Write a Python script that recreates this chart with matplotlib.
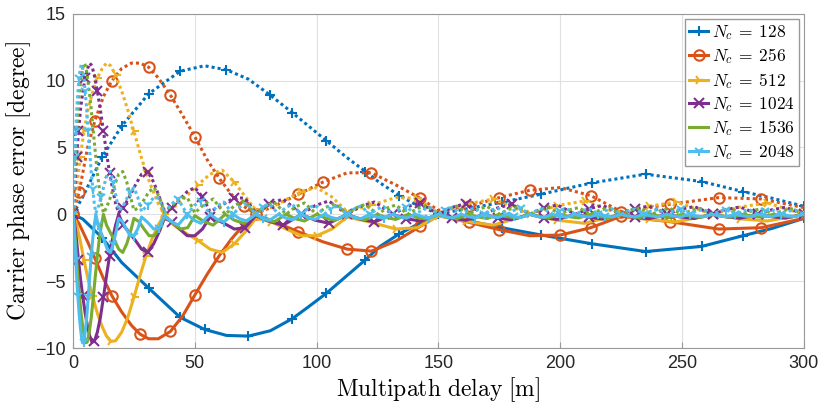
import matplotlib.pyplot as plt
import numpy as np

# Schriften: Achsenbeschriftung im LaTeX-Stil, Zahlen serifenlos
plt.rcParams['mathtext.fontset'] = 'cm'
plt.rcParams['font.family'] = ['Liberation Sans', 'DejaVu Sans']

# Werte (Verzögerung in m, Fehler in Grad)
# d_* = gepunktete Kurve (positiv), s_* = durchgezogene Kurve (negativ)
nc_values = [128, 256, 512, 1024, 1536, 2048]

x_128 = [0, 4, 12, 20, 31, 44, 54, 63, 72, 81, 90, 96, 104, 112, 120, 126, 134, 142, 150,
         160, 176, 192, 213, 235, 258, 275, 287, 300]
d_128 = [0, 1.3, 4.3, 6.6, 9.0, 10.7, 11.1, 10.8, 10.1, 8.9, 7.6, 6.7, 5.5, 4.3, 3.2, 2.35, 1.4, 0.6, 0.05,
         0.35, 0.9, 1.5, 2.35, 3.0, 2.45, 1.7, 1.2, 0.6]
s_128 = [0, -0.35, -1.75, -3.6, -5.5, -7.7, -8.6, -9.05, -9.1, -8.7, -7.8, -7.0, -5.9, -4.65, -3.4, -2.4, -1.45, -0.7, 0,
         -0.4, -1.0, -1.54, -2.2, -2.78, -2.4, -1.6, -1.05, -0.3]

x_256 = [0, 2.5, 6, 9, 12.5, 16, 20, 24, 27.5, 31, 35, 40, 45, 50, 55, 60, 65, 70, 75,
         82.5, 92.5, 102.5, 112.5, 122.5, 132.5, 142.5, 150, 162.5, 175, 187.5, 200, 212.5, 225,
         245, 265, 282.5, 300]
d_256 = [0, 1.65, 5.0, 7.0, 8.8, 10.0, 10.9, 11.3, 11.3, 11.0, 10.2, 8.9, 7.4, 5.8, 4.1, 2.7, 1.5, 0.6, 0.05,
         0.6, 1.5, 2.4, 3.1, 3.1, 2.2, 1.2, 0.3, 0.6, 1.25, 1.8, 2.0, 1.4, 0.2,
         0.75, 1.25, 1.15, 0.5]
s_256 = [0, -0.7, -2.05, -3.3, -4.8, -6.1, -7.3, -8.3, -8.95, -9.3, -9.3, -8.75, -7.6, -6.03, -4.5, -3.1, -1.85, -0.8, 0,
         -0.55, -1.3, -2.05, -2.6, -2.75, -2.0, -0.9, -0.1, -0.6, -1.15, -1.6, -1.55, -1.0, -0.15,
         -0.55, -1.1, -1.0, -0.3]

x_512 = [0, 1.25, 3, 4.5, 6.25, 8, 10, 12, 13.75, 15.5, 17.5, 20, 22.5, 25, 27.5, 30, 32.5, 35, 37.5,
         41.25, 46.25, 51.25, 56.25, 61.25, 66.25, 71.25, 75, 81.25, 87.5, 93.75, 100, 106.25, 112.5,
         122.5, 132.5, 141.25, 150, 161.25, 172.5, 187.5, 198.75, 210, 225, 236.25, 247.5, 262.5,
         273.75, 285, 300]
d_512 = [0, 1.6, 4.3, 6.2, 7.9, 9.1, 10.2, 10.9, 11.3, 11.1, 10.4, 9.2, 7.8, 6.2, 4.6, 3.1, 1.9, 0.8, 0.1,
         0.5, 1.3, 2.2, 3.0, 3.3, 2.4, 1.2, 0.3, 0.5, 1.1, 1.7, 2.0, 1.3, 0.2,
         0.7, 1.25, 1.2, 0.1, 0.75, 1.15, 0, 0.65, 1.0, 0, 0.6, 0.92, 0,
         0.55, 0.85, 0]
s_512 = [0, -0.6, -2.0, -3.4, -4.9, -6.1, -7.4, -8.4, -9.1, -9.5, -9.45, -8.8, -7.7, -6.2, -4.6, -3.1, -1.8, -0.8, 0,
         -0.8, -1.4, -1.95, -2.6, -2.85, -2.2, -1.2, -0.3, -0.55, -1.1, -1.6, -1.6, -1.1, -0.2,
         -0.6, -1.1, -1.0, -0.1, -0.53, -0.81, 0, -0.44, -0.67, 0, -0.37, -0.57, 0,
         -0.33, -0.5, 0]

x_1024 = [0, 0.63, 1.5, 2.25, 3.13, 4, 5, 6, 6.88, 7.75, 8.75, 10, 11.25, 12.5, 13.75, 15, 16.25, 17.5, 18.75,
          20.63, 23.13, 25.63, 28.13, 30.63, 33.13, 35.63, 37.5, 40.63, 43.75, 46.88, 50, 53.13, 56.25,
          61.25, 66.25, 70.63, 75, 80.63, 86.25, 93.75, 99.38, 105, 112.5, 118.13, 123.75, 131.25,
          136.88, 142.5, 150, 155.63, 161.25, 168.75, 174.38, 180, 187.5, 193.13, 198.75, 206.25,
          211.88, 217.5, 225, 230.63, 236.25, 243.75, 249.38, 255, 262.5, 268.13, 273.75, 281.25,
          286.88, 292.5, 300]
d_1024 = [0, 1.6, 4.3, 6.2, 7.9, 9.1, 10.2, 10.9, 11.3, 11.1, 10.4, 9.2, 7.8, 6.2, 4.6, 3.1, 1.9, 0.8, 0.1,
          0.5, 1.3, 2.2, 3.0, 3.2, 2.4, 1.2, 0.3, 0.5, 1.1, 1.7, 2.0, 1.3, 0.2,
          0.7, 1.25, 1.2, 0.1, 0.75, 1.15, 0, 0.65, 1.0, 0, 0.6, 0.92, 0,
          0.55, 0.85, 0, 0.52, 0.8, 0, 0.49, 0.75, 0, 0.46, 0.7, 0,
          0.43, 0.66, 0, 0.4, 0.62, 0, 0.38, 0.58, 0, 0.36, 0.55, 0,
          0.34, 0.53, 0]
s_1024 = [0, -0.6, -2.0, -3.4, -4.9, -6.1, -7.4, -8.4, -9.1, -9.55, -9.5, -8.8, -7.7, -6.2, -4.6, -3.1, -1.8, -0.8, 0,
          -0.8, -1.4, -1.95, -2.6, -2.85, -2.2, -1.2, -0.3, -0.55, -1.1, -1.6, -1.6, -1.1, -0.2,
          -0.6, -1.1, -1.0, -0.1, -0.53, -0.81, 0, -0.44, -0.67, 0, -0.37, -0.57, 0,
          -0.33, -0.5, 0, -0.29, -0.45, 0, -0.27, -0.41, 0, -0.25, -0.38, 0,
          -0.23, -0.35, 0, -0.21, -0.33, 0, -0.2, -0.31, 0, -0.19, -0.29, 0,
          -0.18, -0.28, 0]

x_1536 = [0, 0.42, 1, 1.5, 2.08, 2.67, 3.33, 4, 4.58, 5.17, 5.83, 6.67, 7.5, 8.33, 9.17, 10, 10.83, 11.67, 12.5,
          13.75, 15.42, 17.08, 18.75, 20.42, 22.08, 23.75, 25, 27.08, 29.17, 31.25, 33.33, 35.42, 37.5,
          40.83, 44.17, 47.08, 50, 53.75, 57.5, 62.5, 66.25, 70, 75, 78.75, 82.5, 87.5, 91.25, 95, 100,
          103.75, 107.5, 112.5, 116.25, 120, 125, 128.75, 132.5, 137.5, 141.25, 145, 150,
          153.75, 157.5, 162.5, 166.25, 170, 175, 178.75, 182.5, 187.5, 191.25, 195, 200,
          203.75, 207.5, 212.5, 216.25, 220, 225, 228.75, 232.5, 237.5, 241.25, 245, 250,
          253.75, 257.5, 262.5, 266.25, 270, 275, 278.75, 282.5, 287.5, 291.25, 295, 300]
d_1536 = [0, 1.6, 4.3, 6.2, 7.9, 9.1, 10.2, 10.9, 11.3, 11.1, 10.4, 9.2, 7.8, 6.2, 4.6, 3.1, 1.9, 0.8, 0.1,
          0.5, 1.3, 2.2, 3.0, 3.2, 2.4, 1.2, 0.3, 0.5, 1.1, 1.7, 2.0, 1.3, 0.2,
          0.7, 1.25, 1.2, 0.1, 0.75, 1.15, 0, 0.65, 1.0, 0, 0.6, 0.92, 0, 0.55, 0.85, 0,
          0.52, 0.8, 0, 0.49, 0.75, 0, 0.46, 0.7, 0, 0.43, 0.66, 0,
          0.4, 0.62, 0, 0.38, 0.58, 0, 0.36, 0.55, 0, 0.34, 0.53, 0,
          0.33, 0.5, 0, 0.31, 0.48, 0, 0.31, 0.47, 0, 0.29, 0.45, 0,
          0.29, 0.44, 0, 0.28, 0.43, 0, 0.27, 0.42, 0, 0.27, 0.41, 0]
s_1536 = [0, -0.6, -2.0, -3.4, -4.9, -6.1, -7.4, -8.4, -9.1, -9.6, -9.55, -8.8, -7.7, -6.2, -4.6, -3.1, -1.8, -0.8, 0,
          -0.8, -1.4, -1.95, -2.6, -2.85, -2.2, -1.2, -0.3, -0.55, -1.1, -1.6, -1.6, -1.1, -0.2,
          -0.6, -1.1, -1.0, -0.1, -0.53, -0.81, 0, -0.44, -0.67, 0, -0.37, -0.57, 0, -0.33, -0.5, 0,
          -0.29, -0.45, 0, -0.27, -0.41, 0, -0.25, -0.38, 0, -0.23, -0.35, 0,
          -0.21, -0.33, 0, -0.2, -0.31, 0, -0.19, -0.29, 0, -0.18, -0.28, 0,
          -0.18, -0.27, 0, -0.17, -0.26, 0, -0.16, -0.25, 0, -0.16, -0.24, 0,
          -0.15, -0.23, 0, -0.14, -0.22, 0, -0.14, -0.21, 0, -0.13, -0.2, 0]

x_2048 = [0, 0.31, 0.75, 1.13, 1.56, 2, 2.5, 3, 3.44, 3.88, 4.38, 5, 5.63, 6.25, 6.88, 7.5, 8.13, 8.75, 9.38,
          10.31, 11.56, 12.81, 14.06, 15.31, 16.56, 17.81, 18.75, 20.31, 21.88, 23.44, 25, 26.56, 28.13,
          30.63, 33.13, 35.31, 37.5, 40.31, 43.13, 46.88, 49.69, 52.5, 56.25, 59.06, 61.88, 65.63,
          68.44, 71.25, 75, 77.81, 80.63, 84.38, 87.19, 90, 93.75, 96.56, 99.38, 103.13,
          105.94, 108.75, 112.5, 115.31, 118.13, 121.88, 124.69, 127.5, 131.25, 134.06, 136.88, 140.63,
          143.44, 146.25, 150, 152.81, 155.63, 159.38, 162.19, 165, 168.75, 171.56, 174.38, 178.13,
          180.94, 183.75, 187.5, 190.31, 193.13, 196.88, 199.69, 202.5, 206.25, 209.06, 211.88, 215.63,
          218.44, 221.25, 225, 227.81, 230.63, 234.38, 237.19, 240, 243.75, 246.56, 249.38, 253.13,
          255.94, 258.75, 262.5, 265.31, 268.13, 271.88, 274.69, 277.5, 281.25, 284.06, 286.88, 290.63,
          293.44, 296.25, 300]
d_2048 = [0, 1.6, 4.3, 6.2, 7.9, 9.1, 10.2, 10.9, 11.2, 11.0, 10.4, 9.2, 7.8, 6.2, 4.6, 3.1, 1.9, 0.8, 0.1,
          0.5, 1.3, 2.2, 3.0, 3.2, 2.4, 1.2, 0.3, 0.5, 1.1, 1.7, 2.0, 1.3, 0.2,
          0.7, 1.25, 1.2, 0.1, 0.75, 1.15, 0, 0.65, 1.0, 0, 0.6, 0.92, 0,
          0.55, 0.85, 0, 0.52, 0.8, 0, 0.49, 0.75, 0, 0.46, 0.7, 0,
          0.43, 0.66, 0, 0.4, 0.62, 0, 0.38, 0.58, 0, 0.36, 0.55, 0,
          0.34, 0.53, 0, 0.33, 0.5, 0, 0.31, 0.48, 0, 0.31, 0.47, 0,
          0.29, 0.45, 0, 0.29, 0.44, 0, 0.28, 0.43, 0, 0.27, 0.42, 0,
          0.27, 0.41, 0, 0.26, 0.4, 0, 0.25, 0.39, 0, 0.25, 0.38, 0,
          0.24, 0.37, 0, 0.23, 0.36, 0, 0.23, 0.35, 0, 0.23, 0.35, 0,
          0.22, 0.34, 0]
s_2048 = [0, -0.6, -2.0, -3.4, -4.9, -6.1, -7.4, -8.4, -9.1, -9.6, -9.55, -8.8, -7.7, -6.2, -4.6, -3.1, -1.8, -0.8, 0,
          -0.8, -1.4, -1.95, -2.6, -2.85, -2.2, -1.2, -0.3, -0.55, -1.1, -1.6, -1.6, -1.1, -0.2,
          -0.6, -1.1, -1.0, -0.1, -0.53, -0.81, 0, -0.44, -0.67, 0, -0.37, -0.57, 0,
          -0.33, -0.5, 0, -0.29, -0.45, 0, -0.27, -0.41, 0, -0.25, -0.38, 0,
          -0.23, -0.35, 0, -0.21, -0.33, 0, -0.2, -0.31, 0, -0.19, -0.29, 0,
          -0.18, -0.28, 0, -0.18, -0.27, 0, -0.17, -0.26, 0, -0.16, -0.25, 0,
          -0.16, -0.24, 0, -0.15, -0.23, 0, -0.14, -0.22, 0, -0.14, -0.21, 0,
          -0.13, -0.2, 0, -0.13, -0.2, 0, -0.12, -0.19, 0, -0.12, -0.19, 0,
          -0.12, -0.18, 0, -0.12, -0.18, 0, -0.11, -0.17, 0, -0.11, -0.17, 0,
          -0.1, -0.16, 0]

x_ticks = [0, 50, 100, 150, 200, 250, 300]
y_ticks = [-10, -5, 0, 5, 10, 15]

# MATLAB-Standardfarben
colors = ['#0072BD', '#D95319', '#EDB120', '#7E2F8E', '#77AC30', '#4DBEEE']
markers = ['+', 'o', '4', 'x', None, '1']

curves = [(x_128, d_128, s_128), (x_256, d_256, s_256), (x_512, d_512, s_512),
          (x_1024, d_1024, s_1024), (x_1536, d_1536, s_1536), (x_2048, d_2048, s_2048)]

fig, ax = plt.subplots(figsize=(8.22, 4.12), dpi=100)
fig.subplots_adjust(left=0.0888, right=0.978, bottom=0.155, top=0.967)

for nc, (x, d, s), c, m in zip(nc_values, curves, colors, markers):
    style = dict(color=c, lw=2.2, marker=m, ms=7.5, mew=1.5, mfc='none', markevery=0.056)
    ax.plot(x, s, ls='-', label=r'$N_c \:=\: %d$' % nc, **style)
    ax.plot(x, d, ls=(0, (1, 1.0)), **style)

ax.set_xlim(0, 300)
ax.set_ylim(-10, 15)
ax.set_xticks(x_ticks)
ax.set_yticks(y_ticks)

ax.set_xlabel(r'$\mathrm{Multipath\ delay\ [m]}$', fontsize=17, labelpad=2)
ax.set_ylabel(r'$\mathrm{Carrier\ phase\ error\ [degree]}$', fontsize=17, labelpad=2)

# Gitter und Achsen im MATLAB-Stil
ax.grid(True, color='0.88', lw=0.8)
ax.set_axisbelow(True)
for sp in ax.spines.values():
    sp.set_color('0.6')
ax.tick_params(direction='in', length=4, color='0.6', labelsize=13, labelcolor='#262626', pad=5)

ax.legend(loc='upper right', fontsize=12.5, handlelength=1.1, handletextpad=0.2, borderpad=0.25,
          labelspacing=0.25, borderaxespad=0.3, fancybox=False, framealpha=1, edgecolor='0.6')

plt.savefig('out.png', dpi=100)
